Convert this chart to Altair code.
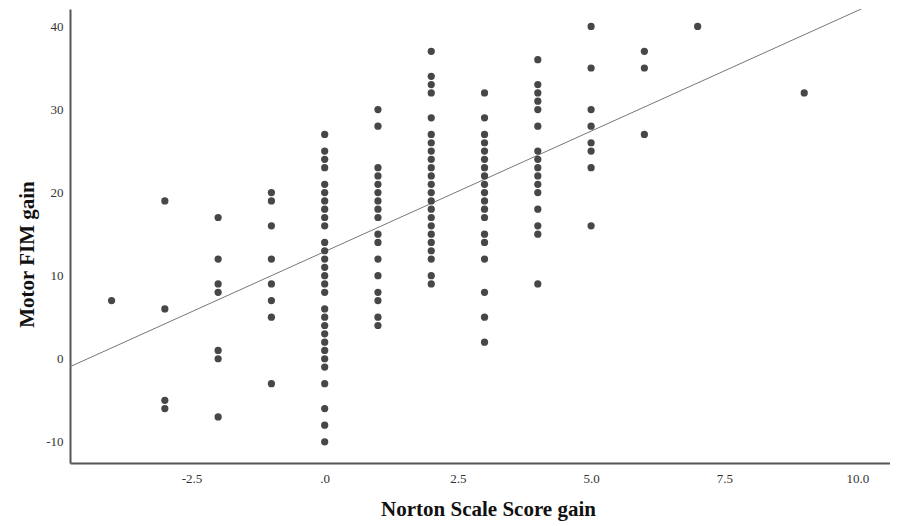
import altair as alt
import pandas as pd

# Motor FIM gain values read per Norton Scale Score gain column
norton_values = [-4, -3, -2, -1, 0, 1, 2, 3, 4, 5, 6, 7, 9]
fim_at_m4 = [7]
fim_at_m3 = [19, 6, -5, -6]
fim_at_m2 = [17, 12, 9, 8, 1, 0, -7]
fim_at_m1 = [20, 19, 16, 12, 9, 7, 5, -3]
fim_at_0 = [27, 25, 24, 23, 21, 20, 19, 18, 17, 16, 14, 13, 12, 11, 10, 9, 8,
            6, 5, 4, 3, 2, 1, 0, -1, -3, -6, -8, -10]
fim_at_1 = [30, 28, 23, 22, 21, 20, 19, 18, 17, 15, 14, 12, 10, 8, 7, 5, 4]
fim_at_2 = [37, 34, 33, 32, 29, 27, 26, 25, 24, 23, 22, 21, 20, 19, 18, 17, 16,
            15, 14, 13, 12, 10, 9]
fim_at_3 = [32, 29, 27, 26, 25, 24, 23, 22, 21, 20, 19, 18, 17, 15, 14, 12, 8, 5, 2]
fim_at_4 = [36, 33, 32, 31, 30, 28, 25, 24, 23, 22, 21, 20, 18, 16, 15, 9]
fim_at_5 = [40, 35, 30, 28, 26, 25, 23, 16]
fim_at_6 = [37, 35, 27]
fim_at_7 = [40]
fim_at_9 = [32]

columns = [fim_at_m4, fim_at_m3, fim_at_m2, fim_at_m1, fim_at_0, fim_at_1,
           fim_at_2, fim_at_3, fim_at_4, fim_at_5, fim_at_6, fim_at_7, fim_at_9]

# Fit line
fit_intercept = 12.9
fit_slope = 2.9

x_domain = [-4.78, 10.61]
y_domain = [-12.55, 42.1]
x_ticks = [-2.5, 0, 2.5, 5, 7.5, 10]
y_ticks = [-10, 0, 10, 20, 30, 40]

rows = []
for xv, ys in zip(norton_values, columns):
    for yv in ys:
        rows.append({"x": xv, "y": yv})
df = pd.DataFrame(rows)
line_df = pd.DataFrame({"x": x_domain})

FONT = "Liberation Serif"

x_axis = alt.Axis(
    values=x_ticks,
    labelExpr="datum.value == 0 ? '.0' : (datum.value < 0 ? '-' : '') + format(abs(datum.value), '.1f')",
    grid=False, ticks=False, domainColor="#555555", domainWidth=2,
    labelFont=FONT, labelFontSize=13, labelColor="#333333", labelPadding=9,
    title="Norton Scale Score gain", titleFont=FONT, titleFontSize=21,
    titleFontWeight="bold", titleColor="#111111",
    titleX=418, titleY=46, titleBaseline="middle", titleAlign="center",
)
y_axis = alt.Axis(
    values=y_ticks,
    labelExpr="(datum.value < 0 ? '-' : '') + format(abs(datum.value), 'd')",
    grid=False, ticks=False, domainColor="#555555", domainWidth=2,
    labelFont=FONT, labelFontSize=13, labelColor="#333333", labelPadding=7,
    title="Motor FIM gain", titleFont=FONT, titleFontSize=21,
    titleFontWeight="bold", titleColor="#111111",
    titleX=-43, titleY=245, titleBaseline="middle", titleAlign="center",
    titleAngle=-90,
)

xs = alt.Scale(domain=x_domain, nice=False, zero=False)
ys_ = alt.Scale(domain=y_domain, nice=False, zero=False)

points = alt.Chart(df).mark_circle(size=52, color="#474747", opacity=1).encode(
    x=alt.X("x:Q", scale=xs, axis=x_axis),
    y=alt.Y("y:Q", scale=ys_, axis=y_axis),
)

fit = alt.Chart(line_df).transform_calculate(
    y=f"{fit_intercept} + {fit_slope} * datum.x"
).mark_line(color="#777777", strokeWidth=1, clip=True).encode(
    x=alt.X("x:Q", scale=xs),
    y=alt.Y("y:Q", scale=ys_),
)

chart = alt.layer(fit, points).properties(
    width=820, height=454,
    autosize="none",
    padding={"left": 62, "top": 1, "right": 0, "bottom": 59},
    background="white",
).configure_view(stroke=None)

chart.save("out.html", embed_options={"renderer": "svg", "actions": False})
